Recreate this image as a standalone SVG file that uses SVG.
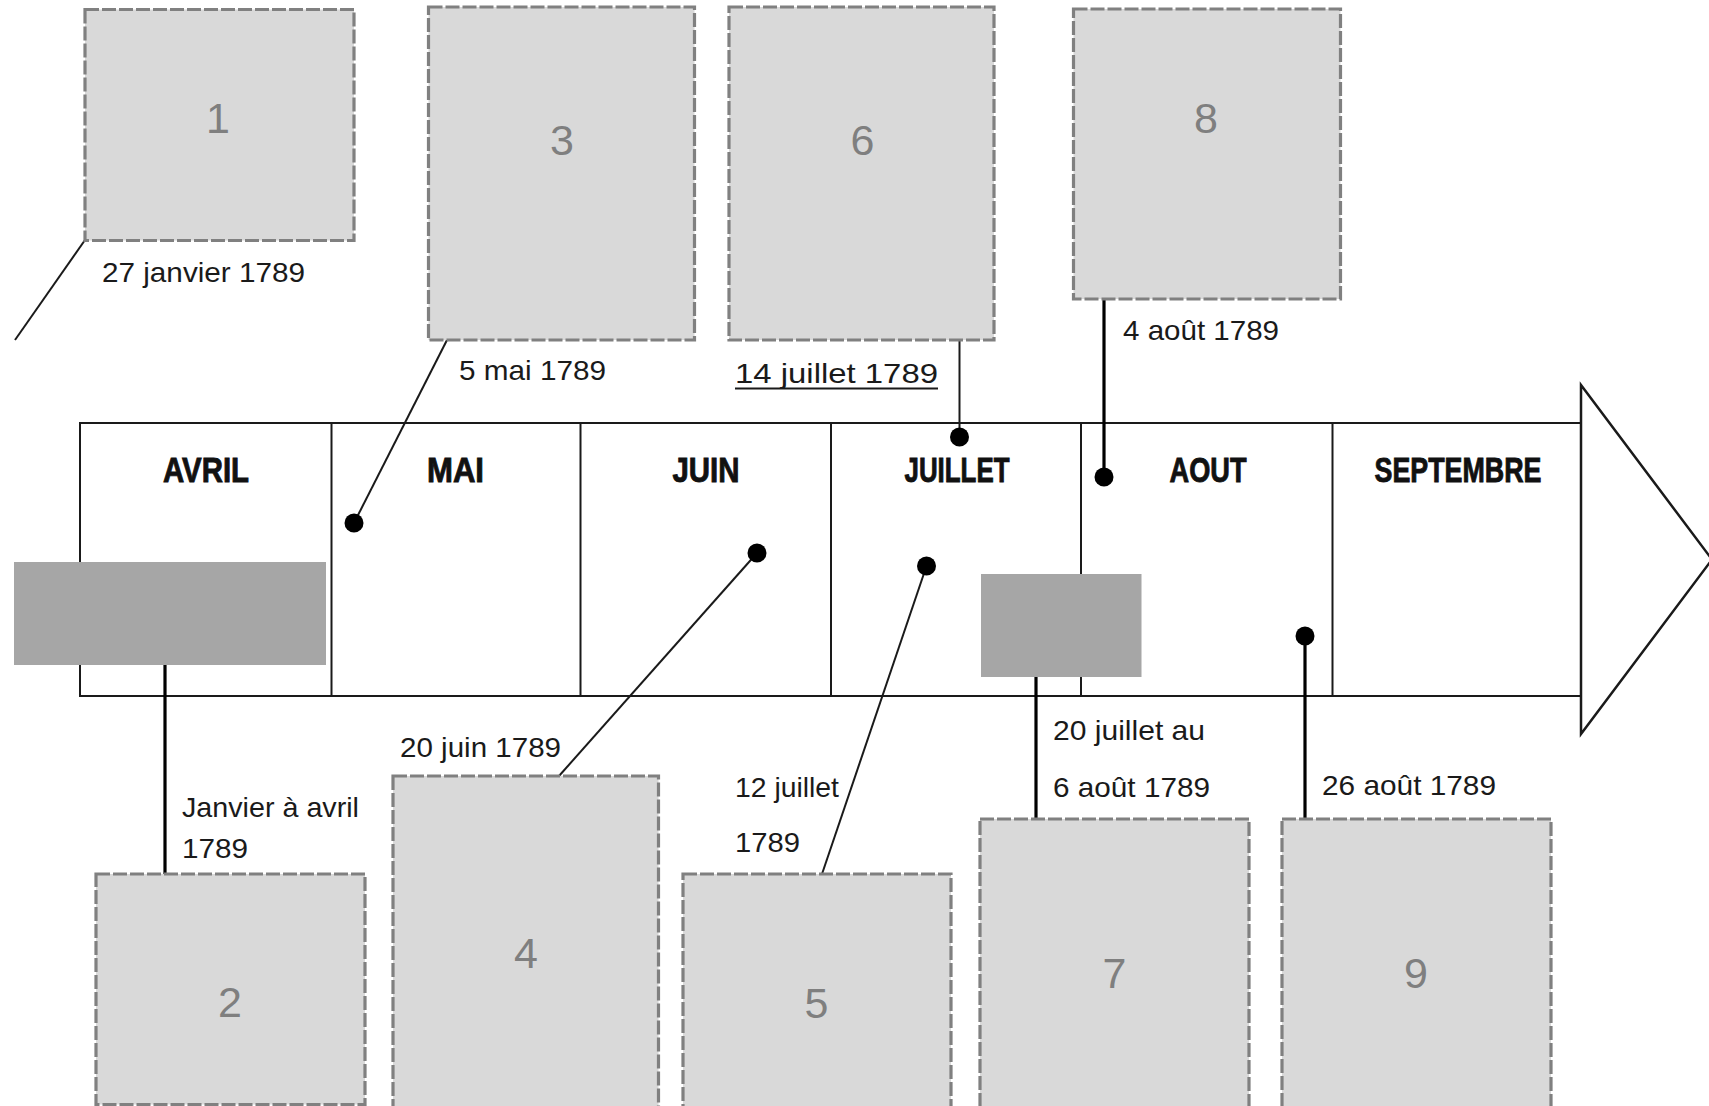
<svg xmlns="http://www.w3.org/2000/svg" width="1709" height="1106" viewBox="0 0 1709 1106">
<style>
.box{fill:#d9d9d9;stroke:#808080;stroke-width:3.2;stroke-dasharray:14 3}
.num{font-family:"Liberation Sans",Arial,sans-serif;font-size:43px;fill:#7f7f7f;text-anchor:middle}
.date{font-family:"Liberation Sans",Arial,sans-serif;font-size:28px;fill:#1a1a1a}
.month{font-family:"Liberation Sans",Arial,sans-serif;font-size:35px;font-weight:bold;fill:#111;stroke:#111;stroke-width:0.9;text-anchor:middle}
.tl{fill:none;stroke:#1a1a1a;stroke-width:2}
.thin{stroke:#1a1a1a;stroke-width:2;fill:none}
.thick{stroke:#000;stroke-width:3.2;fill:none}
.dot{fill:#000}
.band{fill:#a6a6a6}
</style>
<rect width="1709" height="1106" fill="#fff"/>
<g id="timeline">
  <rect class="tl" x="80" y="423" width="1501" height="273"/>
  <line class="tl" x1="331.5" y1="423" x2="331.5" y2="696"/>
  <line class="tl" x1="580.5" y1="423" x2="580.5" y2="696"/>
  <line class="tl" x1="831" y1="423" x2="831" y2="696"/>
  <line class="tl" x1="1081" y1="423" x2="1081" y2="696"/>
  <line class="tl" x1="1332.5" y1="423" x2="1332.5" y2="696"/>
  <polygon points="1581,385 1712,559.5 1581,734" fill="#fff" stroke="#1a1a1a" stroke-width="2.5"/>
  <text class="month" x="206" y="482" textLength="86" lengthAdjust="spacingAndGlyphs">AVRIL</text>
  <text class="month" x="455.5" y="482" textLength="57" lengthAdjust="spacingAndGlyphs">MAI</text>
  <text class="month" x="706" y="482" textLength="67" lengthAdjust="spacingAndGlyphs">JUIN</text>
  <text class="month" x="957" y="482" textLength="105" lengthAdjust="spacingAndGlyphs">JUILLET</text>
  <text class="month" x="1208" y="482" textLength="77" lengthAdjust="spacingAndGlyphs">AOUT</text>
  <text class="month" x="1458" y="482" textLength="167" lengthAdjust="spacingAndGlyphs">SEPTEMBRE</text>
</g>
<g id="bands">
  <rect class="band" x="14" y="562" width="312" height="103"/>
  <rect class="band" x="981" y="574" width="160.5" height="103"/>
</g>
<g id="connectors">
  <line class="thin" x1="85" y1="240" x2="15" y2="340"/>
  <line class="thin" x1="447" y1="340" x2="354" y2="523"/>
  <line class="thin" x1="959.5" y1="340" x2="959.5" y2="437"/>
  <line class="thick" x1="1104" y1="299" x2="1104" y2="477"/>
  <line class="thick" x1="165" y1="665" x2="165" y2="874"/>
  <line class="thin" x1="757" y1="553" x2="559" y2="776"/>
  <line class="thin" x1="926.5" y1="566" x2="822" y2="874"/>
  <line class="thick" x1="1036" y1="677" x2="1036" y2="819"/>
  <line class="thick" x1="1305" y1="636" x2="1305" y2="819"/>
  <circle class="dot" cx="354" cy="523" r="9.5"/>
  <circle class="dot" cx="959.5" cy="437" r="9.5"/>
  <circle class="dot" cx="1104" cy="477" r="9.5"/>
  <circle class="dot" cx="757" cy="553" r="9.5"/>
  <circle class="dot" cx="926.5" cy="566" r="9.5"/>
  <circle class="dot" cx="1305" cy="636" r="9.5"/>
</g>
<g id="node1">
  <rect class="box" x="85" y="9.5" width="269" height="231"/>
  <text class="num" x="218" y="133">1</text>
  <text class="date" x="102" y="282" textLength="203" lengthAdjust="spacingAndGlyphs">27 janvier 1789</text>
</g>
<g id="node3">
  <rect class="box" x="428.5" y="7" width="266" height="333"/>
  <text class="num" x="562" y="155">3</text>
  <text class="date" x="459" y="380" textLength="147" lengthAdjust="spacingAndGlyphs">5 mai 1789</text>
</g>
<g id="node6">
  <rect class="box" x="729" y="7" width="265" height="333"/>
  <text class="num" x="862.5" y="155">6</text>
  <text class="date" x="735" y="383" textLength="203" lengthAdjust="spacingAndGlyphs">14 juillet 1789</text>
  <line x1="735" y1="388.5" x2="938" y2="388.5" stroke="#1a1a1a" stroke-width="1.8"/>
</g>
<g id="node8">
  <rect class="box" x="1073.5" y="9" width="267" height="290"/>
  <text class="num" x="1206" y="133">8</text>
  <text class="date" x="1123" y="340" textLength="156" lengthAdjust="spacingAndGlyphs">4 août 1789</text>
</g>
<g id="node2">
  <rect class="box" x="96" y="874" width="269" height="230.5"/>
  <text class="num" x="230" y="1017">2</text>
  <text class="date" x="182" y="817" textLength="177" lengthAdjust="spacingAndGlyphs">Janvier à avril</text>
  <text class="date" x="182" y="858" textLength="66" lengthAdjust="spacingAndGlyphs">1789</text>
</g>
<g id="node4">
  <rect class="box" x="393" y="776" width="265.5" height="345"/>
  <text class="num" x="526" y="968">4</text>
  <text class="date" x="400" y="757" textLength="161" lengthAdjust="spacingAndGlyphs">20 juin 1789</text>
</g>
<g id="node5">
  <rect class="box" x="683" y="874" width="268" height="245"/>
  <text class="num" x="816.5" y="1018">5</text>
  <text class="date" x="735" y="797" textLength="104" lengthAdjust="spacingAndGlyphs">12 juillet</text>
  <text class="date" x="735" y="852" textLength="65" lengthAdjust="spacingAndGlyphs">1789</text>
</g>
<g id="node7">
  <rect class="box" x="980" y="819" width="269" height="300"/>
  <text class="num" x="1114.5" y="988">7</text>
  <text class="date" x="1053" y="740" textLength="152" lengthAdjust="spacingAndGlyphs">20 juillet au</text>
  <text class="date" x="1053" y="797" textLength="157" lengthAdjust="spacingAndGlyphs">6 août 1789</text>
</g>
<g id="node9">
  <rect class="box" x="1282" y="819" width="269" height="300"/>
  <text class="num" x="1416" y="988">9</text>
  <text class="date" x="1322" y="795" textLength="174" lengthAdjust="spacingAndGlyphs">26 août 1789</text>
</g>
</svg>
